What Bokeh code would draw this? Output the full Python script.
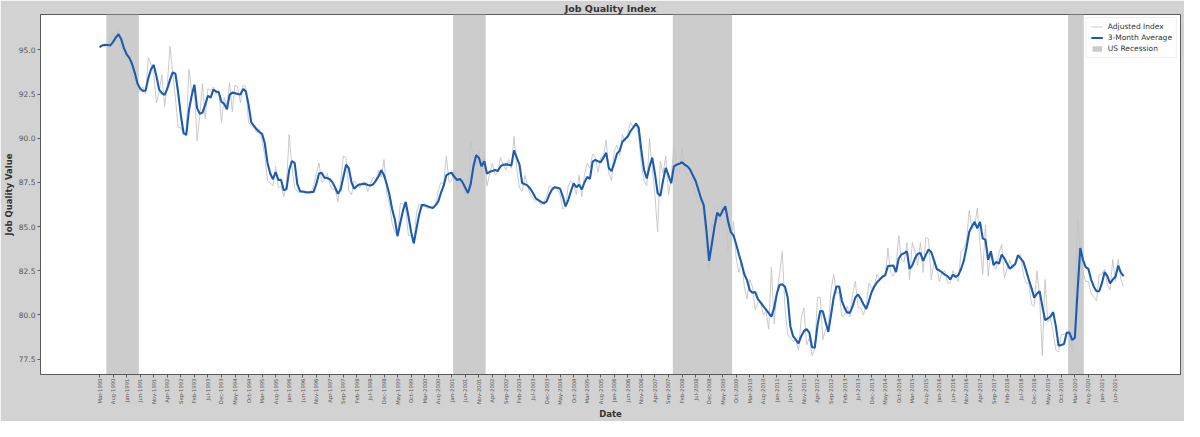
import pandas as pd
from bokeh.plotting import figure
from bokeh.models import (Range1d, FixedTicker, PrintfTickFormatter, Legend, LegendItem)
from bokeh.embed import file_html
from bokeh.resources import INLINE
import math

# ---------------- data ----------------
start_month = "1990-03-01"

adjusted_index = [
    95.1, 95.3, 95.2, 95.3, 95.6, 96.0, 95.5, 96.1, 95.2, 94.6, 94.4, 94.7,
    93.6, 93.2, 92.6, 92.7, 92.9, 92.5, 94.56, 94.2, 93.7, 92.0, 92.6, 93.6,
    91.8, 93.0, 95.2, 93.7, 92.3, 90.6, 90.6, 90.2, 90.4, 93.9, 92.6, 92.8,
    89.85, 91.3, 93.1, 91.1, 92.8, 92.7, 92.9, 92.5, 92.7, 90.9, 92.3, 91.9,
    93.1, 91.5, 93.0, 92.9, 92.0, 93.0, 92.9, 90.9, 90.7, 90.6, 90.3, 90.5,
    89.9, 89.0, 87.6, 87.5, 87.3, 88.4, 87.2, 87.3, 86.7, 87.4, 90.2, 88.4,
    87.2, 87.0, 86.9, 87.0, 86.9, 87.0, 86.9, 87.3, 88.0, 88.6, 87.5, 87.6,
    88.0, 87.4, 87.1, 87.1, 86.4, 87.6, 89.0, 88.9, 87.0, 86.8, 87.6, 87.4,
    87.2, 87.5, 87.5, 87.0, 87.4, 87.8, 87.6, 88.2, 87.8, 88.8, 86.9, 86.3,
    85.2, 84.7, 84.4, 86.3, 86.3, 86.0, 84.5, 84.5, 84.0, 85.8, 86.3, 86.1,
    86.3, 86.0, 86.1, 86.1, 86.2, 87.0, 87.5, 87.4, 89.0, 87.5, 87.6, 88.3,
    87.1, 87.7, 87.6, 86.6, 86.5, 89.8, 89.0, 88.4, 89.3, 87.6, 89.2, 87.3,
    88.0, 88.6, 87.9, 88.1, 88.9, 88.5, 88.2, 88.8, 88.3, 90.1, 88.3, 87.2,
    87.0, 87.9, 87.3, 86.8, 86.6, 86.4, 86.5, 86.2, 86.4, 86.7, 87.3, 87.2,
    87.2, 87.1, 86.8, 86.0, 86.1, 87.3, 87.6, 87.4, 86.8, 87.9, 86.7, 87.9,
    88.6, 88.3, 89.1, 88.9, 88.1, 88.9, 89.0, 89.9, 88.0, 87.6, 89.3, 89.6,
    89.0, 90.2, 89.8, 90.3, 90.9, 90.6, 90.9, 90.1, 88.5, 87.6, 87.3, 90.0,
    88.3, 86.8, 84.7, 88.7, 88.0, 89.0, 86.8, 87.7, 89.6, 88.2, 88.0, 89.5,
    88.2, 87.9, 88.3, 87.4, 86.9, 86.3, 86.6, 85.6, 83.6, 82.5, 85.0, 86.1,
    86.0, 85.3, 86.5, 86.4, 83.6, 84.0, 85.3, 83.2, 82.4, 83.1, 81.6, 80.9,
    82.0, 81.6, 80.3, 80.7, 80.7, 80.0, 80.2, 79.2, 82.7, 79.5, 81.2, 82.3,
    83.6, 80.4, 78.9, 78.7, 78.5, 78.6, 78.0, 79.8, 80.4, 78.3, 78.7, 77.7,
    78.1, 81.0, 81.0, 78.6, 79.2, 79.3, 81.4, 82.3, 81.2, 81.3, 79.9, 80.0,
    80.5, 79.9, 81.2, 81.9, 80.4, 80.4, 80.0, 80.6, 81.8, 81.5, 81.7, 82.3,
    82.0, 82.2, 82.2, 83.8, 82.4, 82.2, 82.7, 84.5, 83.1, 83.0, 84.1, 82.0,
    84.1, 83.6, 82.8, 84.1, 82.4, 84.4, 84.3, 82.0, 83.0, 82.8, 81.9, 82.4,
    82.5, 81.8, 81.8, 82.5, 82.2, 81.9, 83.6, 83.7, 84.2, 85.9, 84.9, 85.0,
    86.05, 84.0, 82.3, 85.1, 82.2, 83.6, 82.7, 82.6, 83.5, 84.0, 82.1, 82.6,
    83.1, 82.6, 82.9, 83.4, 83.4, 82.3, 81.8, 81.8, 80.6, 80.5, 82.5, 81.0,
    77.7, 82.0, 79.6, 79.8, 79.0, 78.0, 77.9, 78.9, 78.9, 79.0, 79.1, 77.9,
    79.2, 85.5, 83.8, 82.4, 81.9, 81.9, 81.2, 81.0, 80.8, 82.3, 82.3, 82.6,
    81.7, 81.4, 83.15, 81.9, 83.15, 82.0, 81.6,
]

three_month_avg = [
    95.15, 95.25, 95.28, 95.27, 95.25, 95.45, 95.7, 95.88, 95.6, 95.1, 94.75, 94.55,
    94.2, 93.7, 93.1, 92.8, 92.68, 92.7, 93.4, 93.9, 94.15, 93.5, 92.75, 92.55,
    92.45, 92.8, 93.3, 93.72, 93.65, 92.6, 91.3, 90.3, 90.18, 91.6, 92.4, 93.03,
    91.7, 91.38, 91.45, 91.9, 92.4, 92.3, 92.75, 92.65, 92.6, 92.05, 91.95, 91.63,
    92.45, 92.58, 92.55, 92.5, 92.47, 92.79, 92.65, 91.9, 90.9, 90.7, 90.5, 90.35,
    90.25, 89.7, 88.6, 88.0, 87.68, 88.08, 87.64, 87.64, 87.05, 87.12, 88.2, 88.71,
    88.6, 87.4, 87.0, 86.98, 86.95, 86.93, 86.95, 86.96, 87.4, 88.0, 88.04, 87.77,
    87.75, 87.68, 87.5, 87.2, 86.86, 87.1, 87.8, 88.5, 88.3, 87.5, 87.14, 87.3,
    87.39, 87.4, 87.42, 87.35, 87.32, 87.39, 87.6, 87.85, 88.19, 87.9, 87.41, 86.8,
    86.0, 85.4, 84.46, 85.2, 85.9, 86.4, 85.6, 84.7, 84.06, 84.9, 85.7, 86.23,
    86.2, 86.15, 86.1, 86.05, 86.2, 86.41, 86.9, 87.3, 87.9, 88.0, 88.04, 87.8,
    87.64, 87.7, 87.5, 87.2, 86.9, 87.4, 88.4, 89.04, 88.9, 88.41, 88.7, 88.0,
    88.1, 88.15, 88.2, 88.15, 88.4, 88.5, 88.52, 88.5, 88.45, 89.31, 88.9, 88.5,
    87.46, 87.4, 87.32, 87.14, 86.9, 86.6, 86.5, 86.4, 86.32, 86.41, 86.8, 87.1,
    87.23, 87.2, 87.14, 86.7, 86.14, 86.5, 87.0, 87.45, 87.23, 87.37, 87.1, 87.5,
    87.81, 87.7, 88.68, 88.77, 88.7, 88.64, 88.9, 89.17, 88.3, 88.14, 88.6, 89.13,
    89.3, 89.8, 89.95, 90.1, 90.4, 90.6, 90.82, 90.6, 89.3, 88.2, 87.72, 88.4,
    88.9, 88.0, 86.9, 86.72, 87.6, 88.32, 87.9, 87.45, 88.41, 88.5, 88.55, 88.64,
    88.5, 88.41, 88.22, 87.9, 87.59, 87.1, 86.6, 86.23, 84.8, 83.06, 84.0, 85.0,
    85.78, 85.6, 85.9, 86.14, 85.3, 84.69, 84.5, 84.0, 83.42, 82.9, 82.3, 81.97,
    81.4, 81.25, 81.3, 80.9, 80.71, 80.5, 80.3, 80.1, 79.9, 80.4, 81.2, 81.7,
    81.74, 81.6, 80.98, 79.35, 78.8, 78.6, 78.39, 78.8, 79.08, 79.2, 79.0, 78.17,
    78.15, 79.4, 80.22, 80.2, 79.6, 79.04, 80.0, 81.0, 81.61, 81.61, 80.8, 80.4,
    80.13, 80.13, 80.5, 81.0, 81.16, 80.9, 80.6, 80.34, 80.8, 81.3, 81.61, 81.85,
    82.0, 82.16, 82.25, 82.76, 82.78, 82.8, 82.43, 83.2, 83.42, 83.5, 83.6, 82.61,
    82.8, 83.2, 83.46, 83.5, 83.06, 83.4, 83.7, 83.55, 83.1, 82.6, 82.52, 82.4,
    82.28, 82.2, 82.01, 82.28, 82.15, 82.25, 82.6, 83.06, 83.8, 84.69, 85.0, 85.27,
    84.9, 85.27, 84.33, 84.25, 83.12, 83.6, 82.83, 83.0, 82.9, 83.42, 83.2, 82.9,
    82.61, 82.75, 82.88, 83.37, 83.2, 83.0, 82.52, 82.0, 81.52, 80.98, 81.2, 81.34,
    80.5, 79.71, 79.8, 79.9, 80.16, 79.35, 78.26, 78.3, 78.35, 78.99, 79.0, 78.59,
    78.7, 81.34, 83.79, 83.12, 82.7, 82.6, 82.0, 81.6, 81.34, 81.34, 81.8, 82.43,
    82.2, 81.79, 82.0, 82.16, 82.79, 82.4, 82.2,
]

# recession shading, in months since Mar-1990 (as drawn)
recession_start = [2.5, 130.5, 211.6, 357.5]
recession_end = [14.5, 142.5, 233.5, 363.3]

y_ticks = [77.5, 80.0, 82.5, 85.0, 87.5, 90.0, 92.5, 95.0]
tick_step = 5  # months between date labels

# ---------------- derived positions ----------------
months = pd.date_range(start_month, periods=len(three_month_avg), freq="MS")
x_idx = list(range(len(three_month_avg)))
tick_pos = x_idx[::tick_step]
tick_labels = {i: months[i].strftime("%b-%Y") for i in tick_pos}

y_lo, y_hi = 76.63, 97.0

FONT = "DejaVu Sans"
p = figure(width=1184, height=421, output_backend="svg", toolbar_location=None,
           x_range=Range1d(-21.8, 399), y_range=Range1d(y_lo, y_hi),
           min_border_left=0, min_border_right=4, min_border_top=0, min_border_bottom=0,
           title="Job Quality Index")

p.background_fill_color = "white"
p.border_fill_color = "#d2d2d2"
p.outline_line_color = "#5a5a5a"
p.outline_line_width = 1
p.xgrid.visible = False
p.ygrid.visible = False

p.title.align = "center"
p.title.text_font = FONT
p.title.text_font_size = "9.5px"
p.title.text_font_style = "bold"
p.title.text_color = "#333333"
p.title.standoff = 1

rec = p.quad(left=recession_start, right=recession_end, bottom=y_lo, top=y_hi,
             fill_color="#cccccc", line_color=None)
raw = p.line(x_idx, adjusted_index, line_color="#c4c4c4", line_width=0.9)
avg = p.line(x_idx, three_month_avg, line_color="#1c5cb0", line_width=2.1)

# axes
xa = p.xaxis[0]
xa.ticker = FixedTicker(ticks=tick_pos)
xa.major_label_overrides = tick_labels
xa.major_label_orientation = math.pi / 2
xa.major_label_text_font = FONT
xa.major_label_text_font_size = "5.3px"
xa.major_label_text_color = "#555555"
xa.major_tick_out = 3
xa.major_tick_in = 0
xa.minor_tick_line_color = None
xa.axis_line_color = "#5a5a5a"
xa.major_tick_line_color = "#5a5a5a"
xa.axis_label = "Date"
xa.axis_label_text_font = FONT
xa.axis_label_text_font_size = "8.5px"
xa.axis_label_text_font_style = "bold"
xa.axis_label_text_color = "#333333"
xa.axis_label_standoff = 1
xa.major_label_standoff = 1

ya = p.yaxis[0]
ya.ticker = FixedTicker(ticks=y_ticks)
ya.formatter = PrintfTickFormatter(format="%.1f")
ya.major_label_text_font = FONT
ya.major_label_text_font_size = "7.5px"
ya.major_label_text_color = "#555555"
ya.major_tick_out = 3
ya.major_tick_in = 0
ya.minor_tick_line_color = None
ya.axis_line_color = "#5a5a5a"
ya.major_tick_line_color = "#5a5a5a"
ya.axis_label = "Job Quality Value"
ya.axis_label_text_font = FONT
ya.axis_label_text_font_size = "8.5px"
ya.axis_label_text_font_style = "bold"
ya.axis_label_text_color = "#333333"
ya.axis_label_standoff = 2
ya.major_label_standoff = 2

legend = Legend(items=[
    LegendItem(label="Adjusted Index", renderers=[raw]),
    LegendItem(label="3-Month Average", renderers=[avg]),
    LegendItem(label="US Recession", renderers=[rec]),
], location="top_right")
legend.label_text_font = FONT
legend.label_text_font_size = "7.5px"
legend.label_text_color = "#333333"
legend.glyph_width = 12
legend.glyph_height = 7
legend.label_height = 8
legend.spacing = 2
legend.padding = 4
legend.margin = 3
legend.label_standoff = 5
legend.background_fill_color = "white"
legend.background_fill_alpha = 0.85
legend.border_line_color = "#e0e0e0"
p.add_layout(legend)

open("out.html", "w").write(file_html(p, INLINE))
